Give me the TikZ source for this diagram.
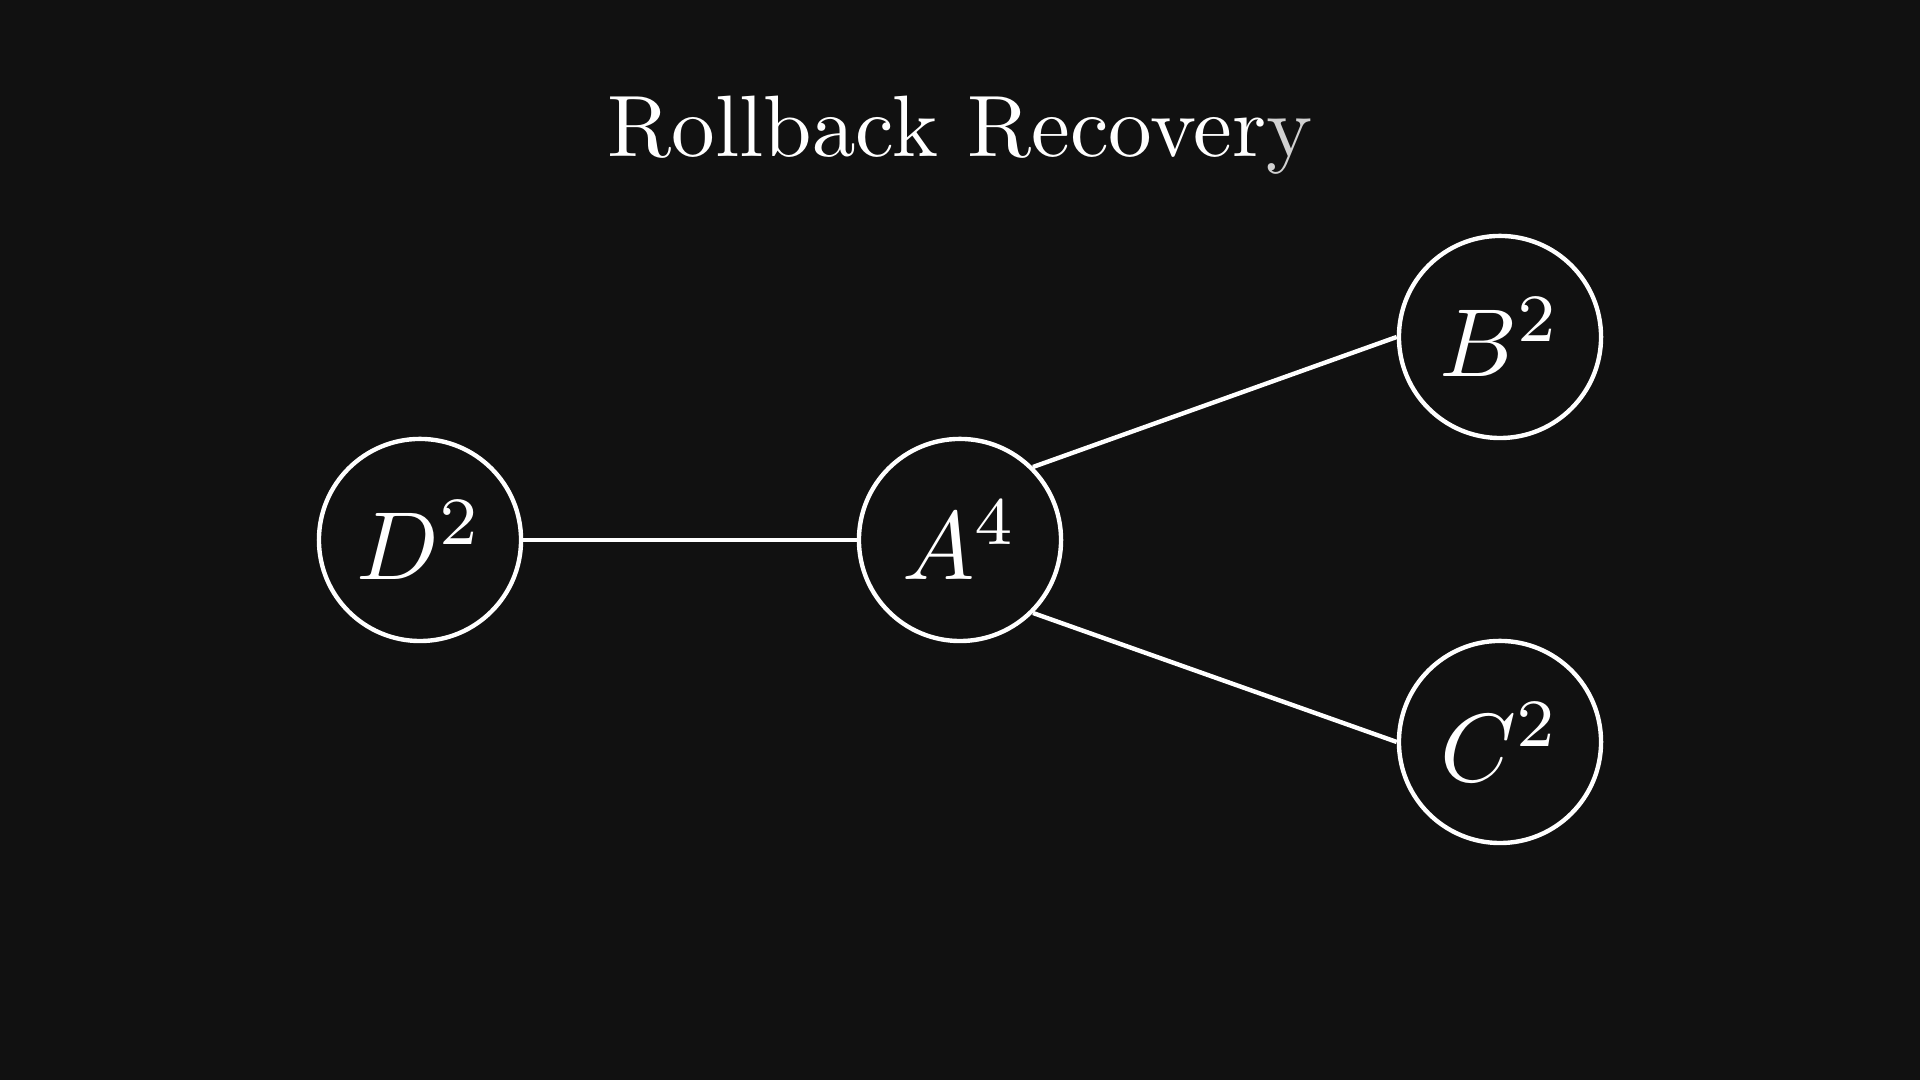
\documentclass[tikz,border=0pt]{standalone}
\begin{document}
\begin{tikzpicture}[x=0.01cm,y=0.01cm,
  vtx/.style={circle,draw=white,line width=1.25pt,minimum size=2.02cm,inner sep=0pt,
    text=white},
  edge/.style={draw=white,line width=1.25pt},
  titletext/.style={text=white,inner sep=0pt}]
\fill[fill={rgb,255:red,17;green,17;blue,17}] (0,0) rectangle (1920,1080);
\useasboundingbox (0,0) rectangle (1920,1080);
\node[titletext,anchor=base] (title) at (960,923) {\scalebox{2.48}{Rollback Recover\textcolor{white!82!black}{y}}};
\node[vtx] (D) at (420,540) {\scalebox{2.75}{$D^2$}};
\node[vtx] (A) at (960,540) {\scalebox{2.75}{$A^4$}};
\node[vtx] (B) at (1500,743) {\scalebox{2.75}{$B^2$}};
\node[vtx] (C) at (1500,338) {\scalebox{2.75}{$C^2$}};
\draw[edge] (D) -- (A);
\draw[edge] (A.45) -- (B.west);
\draw[edge] (A.-45) -- (C.west);
\end{tikzpicture}
\end{document}
